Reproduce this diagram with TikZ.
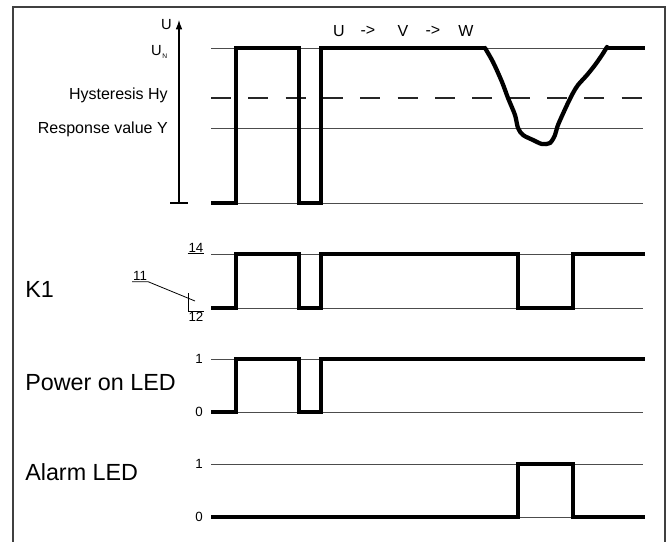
\documentclass[tikz,border=0pt]{standalone}
\usepackage{fontspec}
\setmainfont{Liberation Sans}
\usetikzlibrary{arrows.meta, positioning}

\begin{document}
\begin{tikzpicture}[x=0.75pt, y=-0.75pt,
    level/.style={line width=0.7pt, black!70},
    hyst/.style={line width=0.9pt, black!85, dash pattern=on 15pt off 13pt},
    signal/.style={line width=3.2pt, black},
    frame/.style={line width=0.9pt, black!75},
    trace/.style={font=\fontsize{17.5}{20}\selectfont, anchor=base west, inner sep=0pt},
    axislabel/.style={font=\fontsize{12}{14}\selectfont, anchor=base east, inner sep=0pt},
    levellabel/.style={font=\fontsize{10}{12}\selectfont, anchor=east, inner sep=0pt},
    phaselabel/.style={font=\fontsize{12}{14}\selectfont, inner sep=0pt},
    pin/.style={font=\fontsize{10}{12}\selectfont, inner sep=0.6pt}]

\useasboundingbox (0,0) rectangle (668,542);

% frame, open at the bottom
\draw[frame] (13,542) -- (13,7) -- (665,7) -- (665,542);

% voltage axis
\coordinate (ubot) at (179,203);
\coordinate (utop) at (179,20);
\draw[line width=0.8pt, -{Latex[length=7pt, width=5pt]}] (ubot) -- (utop);
\draw[line width=0.8pt] (170,203) -- (188,203);
\node[levellabel, font=\fontsize{11}{12}\selectfont] (ulbl) at (172,25) {U};
\node[levellabel, font=\fontsize{11}{12}\selectfont] (unlbl) at (162,51) {U};
\node[anchor=west, inner sep=0pt, font=\fontsize{5}{6}\selectfont] (nsub) at (unlbl.south east) {N};
\node[axislabel] (hylbl) at (168,99) {Hysteresis Hy};
\node[axislabel] (ylbl) at (168,133) {Response value Y};
\node[phaselabel] (uph) at (339,31) {U};
\node[phaselabel] (arr1) at (368,31) {->};
\node[phaselabel] (vph) at (403,31) {V};
\node[phaselabel] (arr2) at (433,31) {->};
\node[phaselabel] (wph) at (466,31) {W};

% voltage levels
\draw[level] (211,48) -- (643,48);
\draw[hyst] (211,98) -- (643,98);
\draw[level] (211,128) -- (643,128);
\draw[level] (211,203) -- (643,203);

% supply voltage
\draw[signal] (211,203) -- (236,203) -- (236,48) -- (299,48) -- (299,203)
    -- (321,203) -- (321,48) -- (485,48);
\draw[signal, line join=round, line cap=round] plot[smooth, tension=0.5] coordinates {
    (485,48) (493,62) (502,82) (508,98) (515,115) (518,128) (523,135)
    (533,140) (542,144) (550,143) (555,135) (558,125) (567,105) (573,93)
    (578,85) (587,75) (595,65) (602,55) (607,47)};
\draw[signal] (607,48) -- (645,48);

% relay K1
\node[trace] (k1) at (25,297) {K1};
\node[pin] (p14) at (196,248) {14};
\node[pin] (p11) at (140,276) {11};
\node[pin] (p12) at (196,317) {12};
\draw[line width=0.6pt] (p14.south west) -- (p14.south east);
\draw[line width=0.6pt] (p11.south west) -- (p11.south east) -- (195,301);
\draw[line width=0.6pt] (188,293) |- (p12.north east);
\draw[level] (211,254) -- (643,254);
\draw[level] (211,308) -- (643,308);
\draw[signal] (211,308) -- (236,308) -- (236,254) -- (299,254) -- (299,308)
    -- (321,308) -- (321,254) -- (518,254) -- (518,308) -- (573,308)
    -- (573,254) -- (645,254);

% power on LED
\node[trace] (pwr) at (25,390) {Power on LED};
\node[levellabel] (pwr1) at (203,359) {1};
\node[levellabel] (pwr0) at (203,412) {0};
\draw[level] (211,359) -- (643,359);
\draw[level] (211,412) -- (643,412);
\draw[signal] (211,412) -- (236,412) -- (236,359) -- (299,359) -- (299,412)
    -- (321,412) -- (321,359) -- (645,359);

% alarm LED
\node[trace] (alm) at (25,480) {Alarm LED};
\node[levellabel] (alm1) at (203,464) {1};
\node[levellabel] (alm0) at (203,517) {0};
\draw[level] (211,464) -- (643,464);
\draw[level] (211,517) -- (643,517);
\draw[signal] (211,517) -- (518,517) -- (518,464) -- (573,464) -- (573,517)
    -- (645,517);
\end{tikzpicture}
\end{document}
